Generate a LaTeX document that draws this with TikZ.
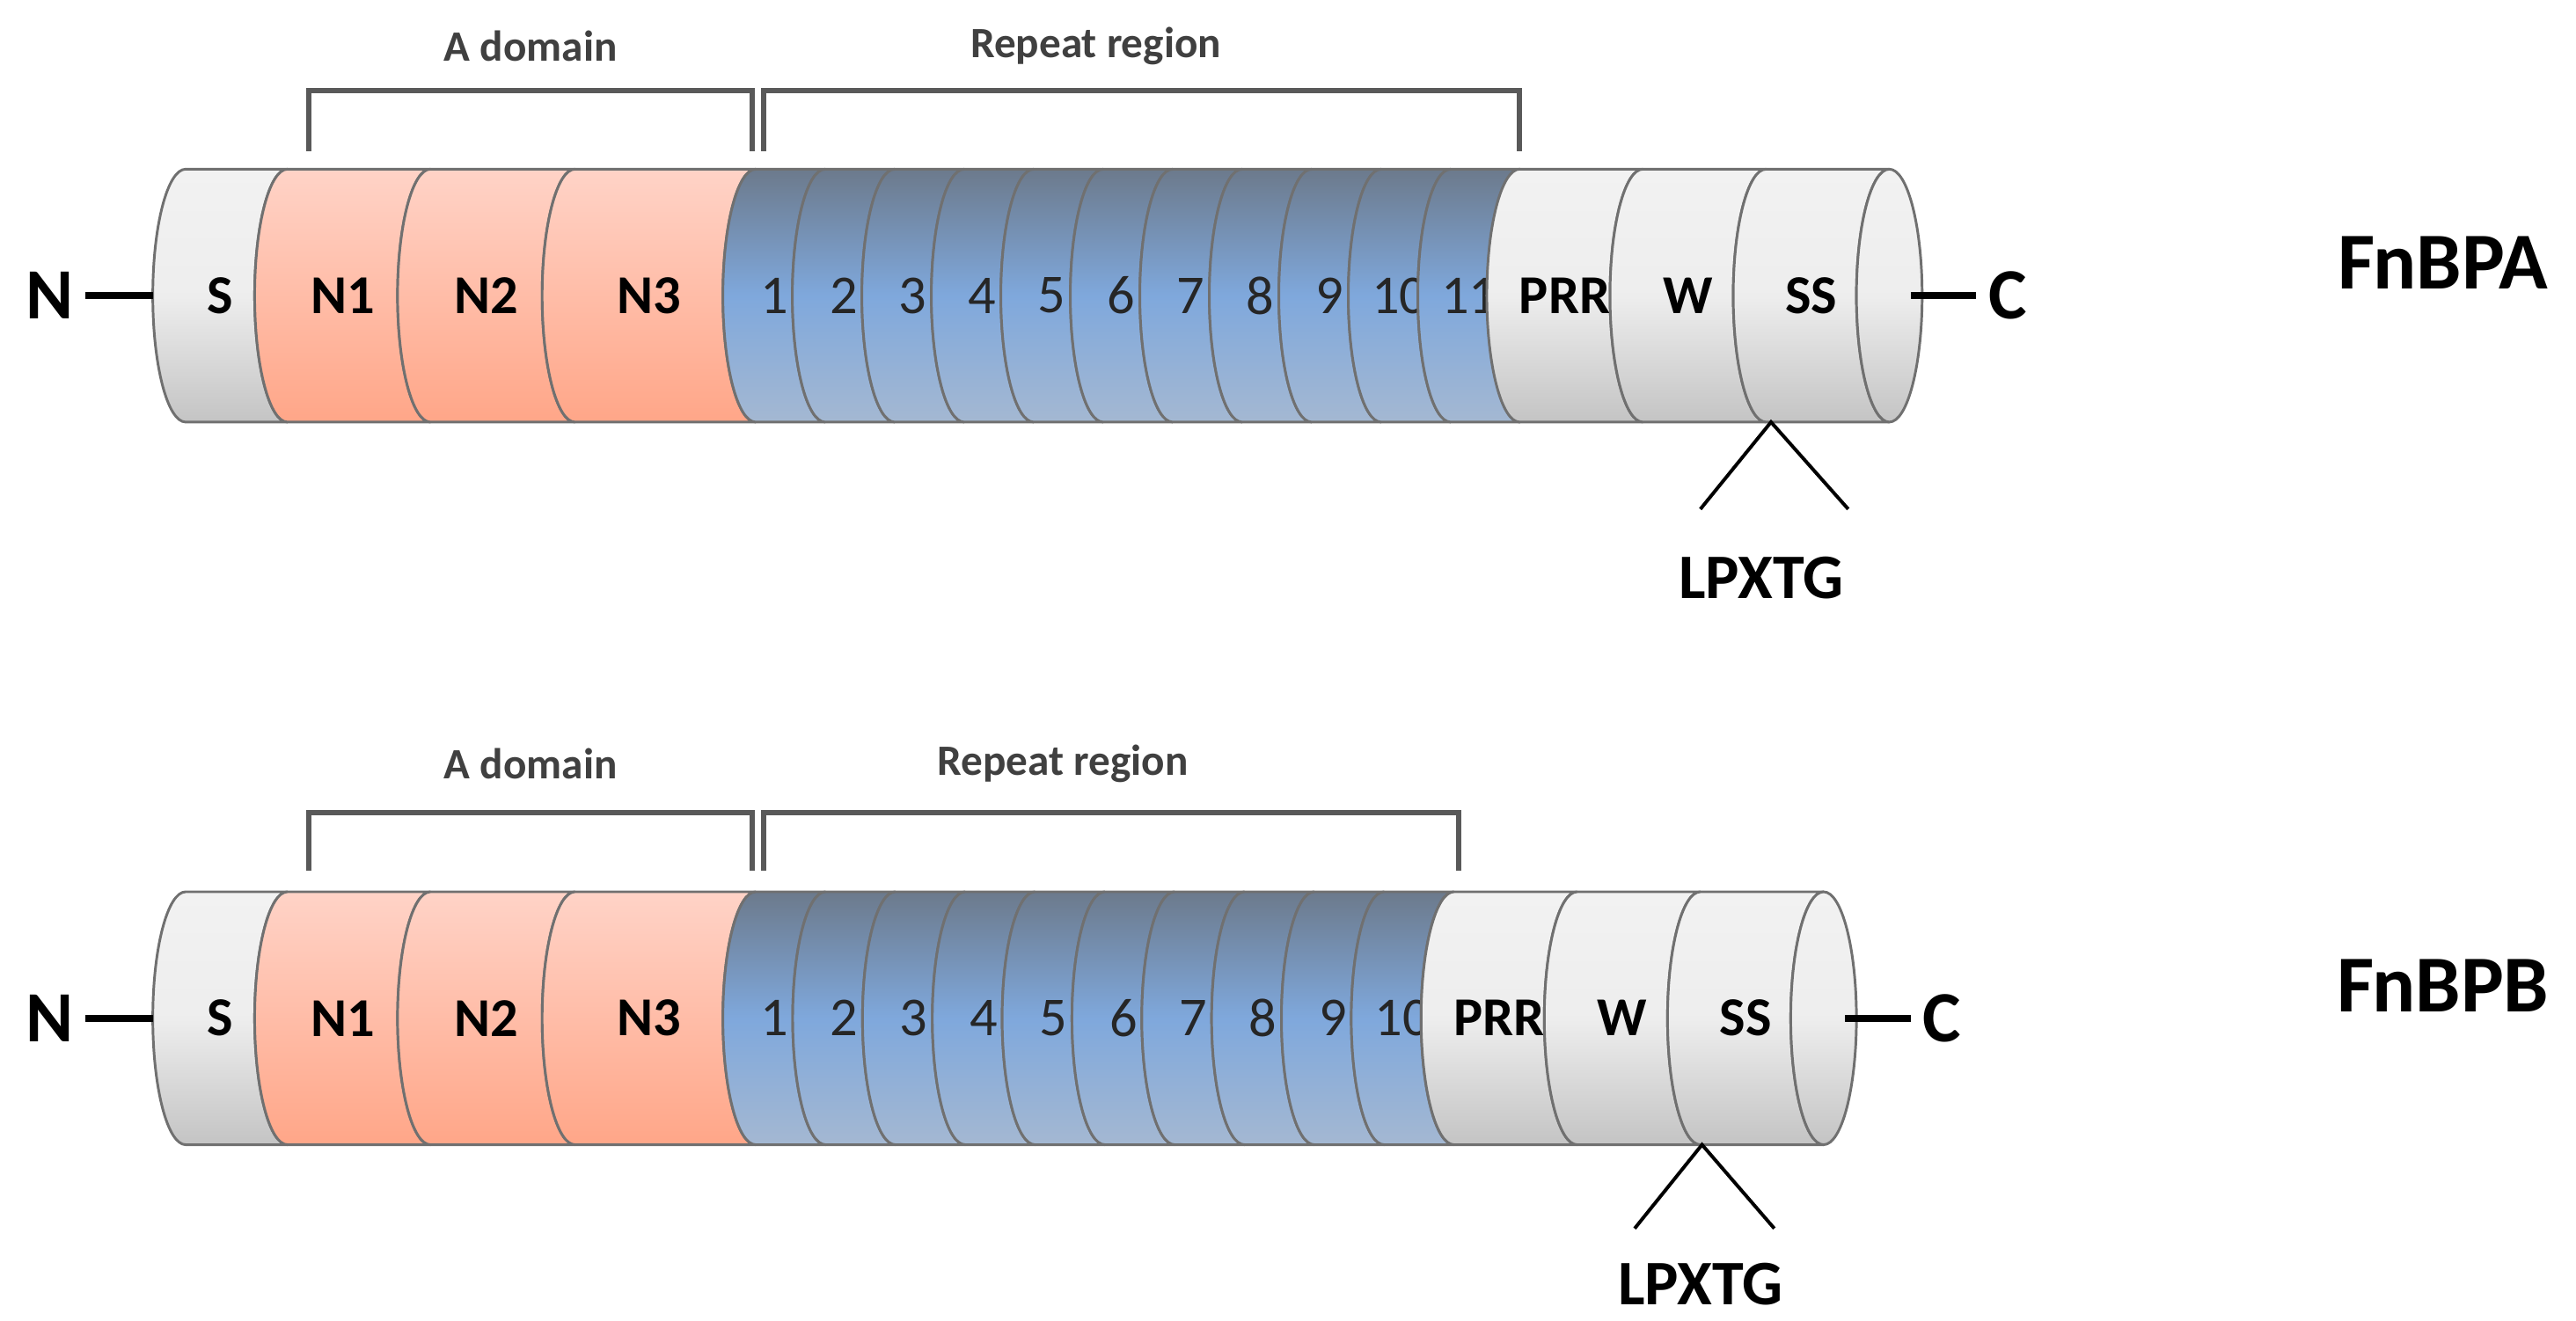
\documentclass[tikz,border=0pt]{standalone}
\usepackage{fontspec}
\setmainfont{Carlito}
\usetikzlibrary{positioning}
\definecolor{pinktop}{HTML}{FFD3C7}
\definecolor{pinkbot}{HTML}{FFA688}
\definecolor{bluetop}{HTML}{6C7A8C}
\definecolor{bluemid}{HTML}{7FA8DC}
\definecolor{bluebot}{HTML}{A4B8D2}
\definecolor{greytop}{HTML}{F2F2F2}
\definecolor{greybot}{HTML}{C4C4C4}
\definecolor{rim}{HTML}{707070}
\tikzset{
  seg/.style={draw=rim, line width=0.9pt},
  greyseg/.style={seg, top color=greytop, bottom color=greybot, middle color=greytop!90!greybot},
  pinkseg/.style={seg, top color=pinktop, bottom color=pinkbot},
  blueseg/.style={seg, top color=bluetop, bottom color=bluebot, middle color=bluemid},
  lab/.style={font=\fontsize{19}{19}\selectfont\bfseries, inner sep=0pt},
  num/.style={font=\fontsize{19}{19}\selectfont, text=black!85, inner sep=0pt},
  term/.style={font=\fontsize{25}{25}\selectfont\bfseries, inner sep=0pt},
  title/.style={font=\fontsize{28}{28}\selectfont\bfseries, inner sep=0pt},
  head/.style={font=\fontsize{15}{15}\selectfont\bfseries, text=black!75, inner sep=0pt},
  brace/.style={draw=black!65, line width=1.8pt},
  stick/.style={line width=2.4pt}
}
% one cylinder segment: #1 left, #2 right, #3 centre y, #4 style, #5 text, #6 name, #7 label style
\newcommand{\seg}[7]{%
  \path[#4] ({#1},{#3+77}) -- ({#2},{#3+77})
    arc[start angle=90, end angle=270, x radius=20, y radius=77]
    -- ({#1},{#3-77})
    arc[start angle=270, end angle=90, x radius=20, y radius=77] -- cycle;
  \node[#7] (#6) at ({(#1+#2)/2-10},{#3}) {#5};}
\begin{document}
\begin{tikzpicture}[x=0.02cm, y=0.02cm]
  \useasboundingbox (0,0) rectangle (1568,-804);

  % FnBPA
  \seg{113}{175}{-180}{greyseg}{S}{aS}{lab}
  \seg{175}{262}{-180}{pinkseg}{N1}{aN1}{lab}
  \seg{262}{350}{-180}{pinkseg}{N2}{aN2}{lab}
  \seg{350}{460}{-180}{pinkseg}{N3}{aN3}{lab}
  \foreach \i in {1,...,11}{
    \seg{460+(\i-1)*42.3}{460+\i*42.3}{-180}{blueseg}{\i}{aR\i}{num}
  }
  \seg{925}{1000}{-180}{greyseg}{PRR}{aPRR}{lab}
  \seg{1000}{1075}{-180}{greyseg}{W}{aW}{lab}
  \seg{1075}{1150}{-180}{greyseg}{SS}{aSS}{lab}
  \path[greyseg] (1150,-180) ellipse[x radius=20, y radius=77];

  \node[term] (aN) at (30,-180) {N};
  \coordinate (aNend) at (93,-180);
  \draw[stick] ([xshift=4pt]aN.east) -- (aNend);
  \node[term] (aC) at (1222,-180) {C};
  \coordinate (aCend) at (1163,-180);
  \draw[stick] (aCend) -- ([xshift=-4pt]aC.west);
  \node[title] (aname) at (1487,-160) {FnBPA};

  \coordinate (aAl) at (188,-92);
  \coordinate (aAr) at (458,-92);
  \draw[brace] (aAl) |- (458,-55) -- (aAr);
  \node[head] (aAdom) at (323,-28) {A domain};
  \coordinate (aRl) at (465,-92);
  \coordinate (aRr) at (925,-92);
  \draw[brace] (aRl) |- (925,-55) -- (aRr);
  \node[head] (aRep) at (667,-28) {Repeat region};

  \coordinate (aTip) at (1078,-257);
  \node[term, font=\fontsize{22}{22}\selectfont\bfseries] (aLP) at (1072,-352) {LPXTG};
  \coordinate (aLegL) at (1035,-310);
  \coordinate (aLegR) at (1125,-310);
  \draw[line width=1.2pt] (aLegL) -- (aTip) -- (aLegR);

  % FnBPB
  \seg{113}{175}{-620}{greyseg}{S}{bS}{lab}
  \seg{175}{262}{-620}{pinkseg}{N1}{bN1}{lab}
  \seg{262}{350}{-620}{pinkseg}{N2}{bN2}{lab}
  \seg{350}{460}{-620}{pinkseg}{N3}{bN3}{lab}
  \foreach \i in {1,...,10}{
    \seg{460+(\i-1)*42.5}{460+\i*42.5}{-620}{blueseg}{\i}{bR\i}{num}
  }
  \seg{885}{960}{-620}{greyseg}{PRR}{bPRR}{lab}
  \seg{960}{1035}{-620}{greyseg}{W}{bW}{lab}
  \seg{1035}{1110}{-620}{greyseg}{SS}{bSS}{lab}
  \path[greyseg] (1110,-620) ellipse[x radius=20, y radius=77];

  \node[term] (bN) at (30,-620) {N};
  \coordinate (bNend) at (93,-620);
  \draw[stick] ([xshift=4pt]bN.east) -- (bNend);
  \node[term] (bC) at (1182,-620) {C};
  \coordinate (bCend) at (1123,-620);
  \draw[stick] (bCend) -- ([xshift=-4pt]bC.west);
  \node[title] (bname) at (1487,-600) {FnBPB};

  \coordinate (bAl) at (188,-530);
  \coordinate (bAr) at (458,-530);
  \draw[brace] (bAl) |- (458,-495) -- (bAr);
  \node[head] (bAdom) at (323,-465) {A domain};
  \coordinate (bRl) at (465,-530);
  \coordinate (bRr) at (888,-530);
  \draw[brace] (bRl) |- (888,-495) -- (bRr);
  \node[head] (bRep) at (647,-465) {Repeat region};

  \coordinate (bTip) at (1036,-697);
  \node[term, font=\fontsize{22}{22}\selectfont\bfseries] (bLP) at (1035,-782) {LPXTG};
  \coordinate (bLegL) at (995,-748);
  \coordinate (bLegR) at (1080,-748);
  \draw[line width=1.2pt] (bLegL) -- (bTip) -- (bLegR);
\end{tikzpicture}
\end{document}
